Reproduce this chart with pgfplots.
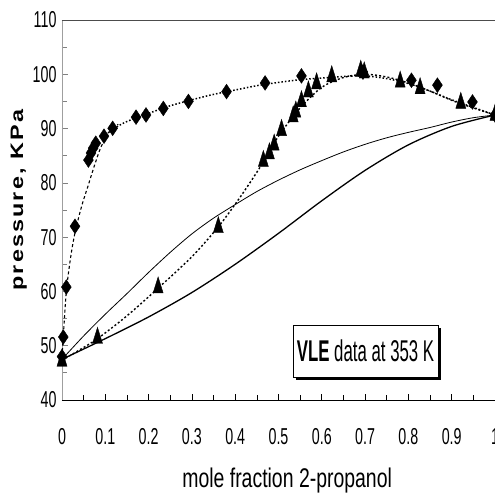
\documentclass[border=0pt]{standalone}
\usepackage{fontspec}
\setmainfont{Liberation Sans}
\newfontfamily\tickfont{Liberation Sans}[FakeStretch=0.62]
\newfontfamily\xlab{Liberation Sans}[FakeStretch=0.72]
\newfontfamily\ylab{Liberation Sans}[FakeStretch=1.3,LetterSpace=12]
\newfontfamily\boxf{Liberation Sans}[FakeStretch=0.56]
\usepackage{pgfplots}
\pgfplotsset{compat=1.18}
\usetikzlibrary{shadows}
\begin{document}
\begin{tikzpicture}
\begin{axis}[
  scale only axis, width=433pt, height=380pt,
  xmin=0, xmax=1, ymin=40, ymax=110,
  clip=false,
  axis line style={draw=none},
  xtick={0,0.1,0.2,0.3,0.4,0.5,0.6,0.7,0.8,0.9,1},
  xticklabels={0,0.1,0.2,0.3,0.4,0.5,0.6,0.7,0.8,0.9,1},
  ytick={40,50,60,70,80,90,100,110},
  minor x tick num=1, minor y tick num=1,
  tick align=inside, tick pos=left,
  major tick length=6pt, minor tick length=5pt,
  xtick style={black, line width=0.7pt},
  ytick style={gray, line width=0.7pt},
  /pgf/number format/assume math mode=true,
  xticklabel style={font=\tickfont\fontsize{23}{23}\selectfont, anchor=center, yshift=-37pt},
  yticklabel style={font=\tickfont\fontsize{23}{23}\selectfont, xshift=-2pt},
  xlabel={mole fraction 2-propanol},
  xlabel style={font=\xlab\fontsize{27}{27}\selectfont, at={(axis description cs:0.52,-0.2316)}, anchor=base},
  ylabel={\bfseries pressure, KPa},
  ylabel style={font=\ylab\fontsize{18}{18}\selectfont, at={(axis description cs:-0.1,0.526)}, anchor=center},
]
% axis lines
\draw[gray!75, line width=0.9pt] (rel axis cs:0,0) -- (rel axis cs:0,1);
\draw[gray!60!black, line width=0.9pt] (rel axis cs:0,1) -- (rel axis cs:1,1);
\draw[black, line width=0.9pt] (rel axis cs:0,0) -- (rel axis cs:1,0);

% solid curves
\addplot[black, line width=0.8pt, smooth] coordinates {
(0,47.5)(0.05,51.8)(0.1,55.8)(0.15,59.6)(0.2,63.5)(0.25,67.2)(0.3,70.6)(0.35,73.5)(0.4,76.0)(0.45,78.4)(0.5,80.5)(0.55,82.4)(0.6,84.1)(0.65,85.7)(0.7,87.1)(0.75,88.3)(0.8,89.3)(0.85,90.2)(0.9,91.2)(0.95,92.0)(1,92.5)};
\addplot[black, line width=1.3pt, smooth] coordinates {
(0,47.5)(0.1,51.3)(0.2,55.3)(0.3,59.8)(0.4,65.0)(0.5,70.7)(0.6,76.7)(0.7,82.3)(0.8,87.0)(0.9,90.4)(1,92.5)};

% fitted dashed/dotted curves
\addplot[black, line width=1.1pt, dash pattern=on 3pt off 2.5pt, smooth] coordinates {
(0,48)(0.003,51.7)(0.01,60)(0.02,66.3)(0.03,70.8)(0.045,75.6)(0.06,79.4)(0.075,83.2)(0.09,86.6)(0.11,89.4)(0.13,90.8)};
\addplot[black, line width=1.5pt, dash pattern=on 1.5pt off 2pt, smooth] coordinates {
(0.1,88.8)(0.12,90)(0.15,91.3)(0.2,92.8)(0.25,94.2)(0.3,95.3)(0.35,96.3)(0.4,97.1)(0.45,97.9)(0.5,98.5)(0.55,99.0)(0.6,99.3)(0.65,99.6)(0.7,99.7)(0.75,99.2)(0.8,98.3)(0.85,96.9)(0.9,95.3)(0.95,93.9)(1,92.5)};
\addplot[black, line width=1.4pt, dash pattern=on 2pt off 2.2pt, smooth] coordinates {
(0,47.3)(0.04,49.2)(0.082,51.3)(0.15,55.5)(0.222,60.6)(0.3,66.4)(0.361,71.9)(0.41,77.2)(0.46,83.2)(0.5,88.6)(0.55,93.8)(0.6,97.6)(0.65,99.4)(0.7,100)(0.75,99.5)(0.8,98.4)(0.85,96.9)(0.9,95.2)(0.95,93.8)(1,92.5)};

% diamonds
\addplot[only marks, mark=diamond*, mark size=6.6pt, mark options={yscale=1.12, fill=black, draw=black}] coordinates {
(0,48)(0.003,51.6)(0.01,60.8)(0.03,72)(0.061,84.2)(0.067,85.5)(0.072,86.4)(0.078,87.3)(0.097,88.6)(0.117,90.05)(0.171,92.1)(0.194,92.5)(0.234,93.7)(0.292,95.0)(0.380,96.8)(0.469,98.4)(0.553,99.7)(0.695,100.4)(0.807,98.9)(0.867,98.0)(0.948,94.9)(1,92.5)};
% triangles
\addplot[only marks, mark=triangle*, mark size=5.8pt, mark options={yscale=1.85, fill=black, draw=black}] coordinates {
(0,47.2)(0.082,51.4)(0.222,60.7)(0.361,71.8)(0.465,84)(0.479,85.4)(0.49,87)(0.507,89.7)(0.534,92.2)(0.54,93.1)(0.553,95)(0.569,96.8)(0.588,98.3)(0.623,99.6)(0.69,100.6)(0.698,100.3)(0.781,98.6)(0.827,97.4)(0.921,94.7)(1,92.5)};

\node[draw=black, line width=0.8pt, fill=white, minimum width=145pt, minimum height=52pt, inner sep=0pt,
  drop shadow={shadow xshift=2.5pt, shadow yshift=-2.5pt, opacity=1, fill=black}]
  at (axis cs:0.701,49.0) {\boxf\fontsize{30}{30}\selectfont\textbf{VLE} data at 353 K};
\end{axis}
\pgfresetboundingbox
\path ([xshift=-62pt,yshift=-95pt]current axis.south west) rectangle ([yshift=20pt]current axis.north east);
\end{tikzpicture}
\end{document}
